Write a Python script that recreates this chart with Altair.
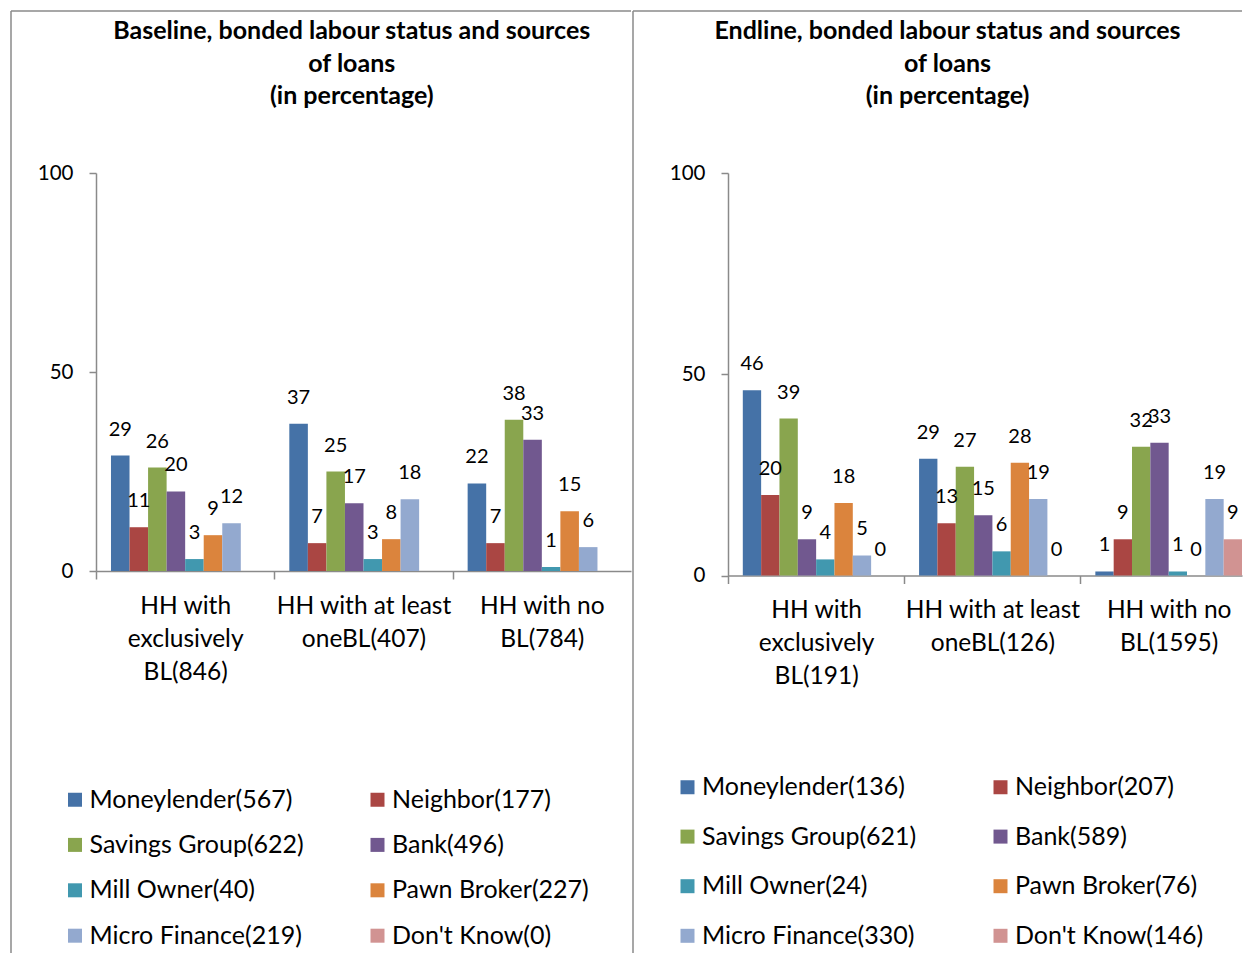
import altair as alt
import pandas as pd

SOURCES = ["Moneylender", "Neighbor", "Savings Group", "Bank", "Mill Owner",
           "Pawn Broker", "Micro Finance", "Don't Know"]
COLORS = ["#4572A7", "#AA4643", "#89A54E", "#71588F", "#4198AF",
          "#DB843D", "#93A9CF", "#D19392"]

BASE_COUNTS = [567, 177, 622, 496, 40, 227, 219, 0]
END_COUNTS = [136, 207, 621, 589, 24, 76, 330, 146]

BASE_GROUPS = ["HH with|exclusively|BL(846)", "HH with at least|oneBL(407)", "HH with no|BL(784)"]
END_GROUPS = ["HH with|exclusively|BL(191)", "HH with at least|oneBL(126)", "HH with no|BL(1595)"]

# values per group (order of SOURCES); None = not shown
BASE_EXCL = [29, 11, 26, 20, 3, 9, 12, None]
BASE_ATLEAST = [37, 7, 25, 17, 3, 8, 18, None]
BASE_NOBL = [22, 7, 38, 33, 1, 15, 6, None]

END_EXCL = [46, 20, 39, 9, 4, 18, 5, 0]
END_ATLEAST = [29, 13, 27, 15, 6, 28, 19, 0]
END_NOBL = [1, 9, 32, 33, 1, 0, 19, 9]

BASE_TITLE = ["Baseline, bonded labour status and sources", "of loans", "(in percentage)"]
END_TITLE = ["Endline, bonded labour status and sources", "of loans", "(in percentage)"]

# legend reads row by row (2 columns); Vega fills columns first
LEGEND_ORDER = [0, 2, 4, 6, 1, 3, 5, 7]

FONT = "Lato"
GRAY = "#8a8a8a"


def make_df(groups, rows, counts):
    labels = [f"{s}({c})" for s, c in zip(SOURCES, counts)]
    recs = []
    for g, vals in zip(groups, rows):
        for s, lab, v in zip(SOURCES, labels, vals):
            recs.append({"group": g, "src": s, "source": lab, "value": v})
    return pd.DataFrame(recs), labels


def panel(groups, rows, counts, title, width, height, pad_inner, pad_outer, align,
          title_x, title_y, legend_x, legend_y, col_pad, row_pad,
          rule_x, rule_top, rule_bottom, rule_right):
    df, labels = make_df(groups, rows, counts)
    leg_domain = [labels[i] for i in LEGEND_ORDER]
    leg_range = [COLORS[i] for i in LEGEND_ORDER]
    base = alt.Chart(df).encode(
        x=alt.X("group:N", sort=groups, title=None,
                scale=alt.Scale(paddingInner=pad_inner, paddingOuter=pad_outer, align=align),
                axis=alt.Axis(labelExpr="split(datum.label, '|')", labelAngle=0,
                              labelFont=FONT, labelFontSize=24.5, labelColor="black",
                              labelLineHeight=33, labelPadding=15, labelLimit=400,
                              bandPosition=0, tickOffset=-15, labelOffset=15,
                              tickSize=8, tickColor=GRAY, tickWidth=1.5,
                              domainColor=GRAY, domainWidth=1.5, grid=False)),
        xOffset=alt.XOffset("src:N", sort=SOURCES,
                            scale=alt.Scale(domain=SOURCES, paddingInner=0, paddingOuter=0)),
        y=alt.Y("value:Q", title=None, scale=alt.Scale(domain=[0, 100], nice=False),
                axis=alt.Axis(values=[0, 50, 100], labelFont=FONT, labelFontSize=20.5,
                              labelColor="black", labelPadding=16, labelFlush=False,
                              tickSize=7, tickColor=GRAY, tickWidth=1.5,
                              domainColor=GRAY, domainWidth=1.5, grid=False)),
    )
    bars = base.mark_bar().encode(
        color=alt.Color("source:N",
                        scale=alt.Scale(domain=leg_domain, range=leg_range),
                        legend=alt.Legend(title=None, orient="none", legendX=legend_x,
                                          legendY=legend_y, columns=2, direction="vertical",
                                          columnPadding=col_pad, rowPadding=row_pad,
                                          symbolType="square", symbolSize=196,
                                          symbolStrokeWidth=0, labelFont=FONT,
                                          labelFontSize=25, labelColor="black",
                                          labelOffset=2, labelLimit=400, padding=0))
    )
    text = base.transform_filter("isValid(datum.value)").mark_text(
        font=FONT, fontSize=20, color="black", baseline="middle", dy=-26
    ).encode(text=alt.Text("value:Q"))

    one = pd.DataFrame({"k": [0]})
    title_mark = alt.Chart(one).mark_text(
        font=FONT, fontSize=25, fontWeight="bold", color="black",
        align="center", baseline="top", lineHeight=32.5
    ).encode(x=alt.value(title_x), y=alt.value(title_y), text=alt.value(title))
    top_rule = alt.Chart(one).mark_rule(color=GRAY, strokeWidth=1.5).encode(
        x=alt.value(rule_x), x2=alt.value(rule_right), y=alt.value(rule_top))
    left_rule = alt.Chart(one).mark_rule(color=GRAY, strokeWidth=1.5).encode(
        x=alt.value(rule_x), y=alt.value(rule_top), y2=alt.value(rule_bottom))

    return alt.layer(bars, text, title_mark, top_rule, left_rule).properties(
        width=width, height=height)


left = panel(BASE_GROUPS, [BASE_EXCL, BASE_ATLEAST, BASE_NOBL], BASE_COUNTS, BASE_TITLE,
             width=535, height=398, pad_inner=0.168, pad_outer=0.084, align=0.5,
             title_x=255.75, title_y=-153.75, legend_x=-33.5, legend_y=614, col_pad=60.5,
             row_pad=19.4, rule_x=-85, rule_top=-162, rule_bottom=780, rule_right=535)

right = panel(END_GROUPS, [END_EXCL, END_ATLEAST, END_NOBL], END_COUNTS, END_TITLE,
              width=514, height=402.5, pad_inner=0.168, pad_outer=0.042, align=1,
              title_x=219.5, title_y=-153.75, legend_x=-53, legend_y=601.5, col_pad=71,
              row_pad=23.6, rule_x=-95, rule_top=-162, rule_bottom=780, rule_right=514)

chart = alt.hconcat(left, right, spacing=0).resolve_scale(
    color="independent", x="independent", y="independent", xOffset="independent"
).resolve_legend(color="independent").properties(
    padding={"left": 2, "top": 2, "right": 0, "bottom": 0},
    background="white",
).configure_view(stroke=None)

chart.save("out.html", embed_options={"renderer": "svg", "actions": False})
